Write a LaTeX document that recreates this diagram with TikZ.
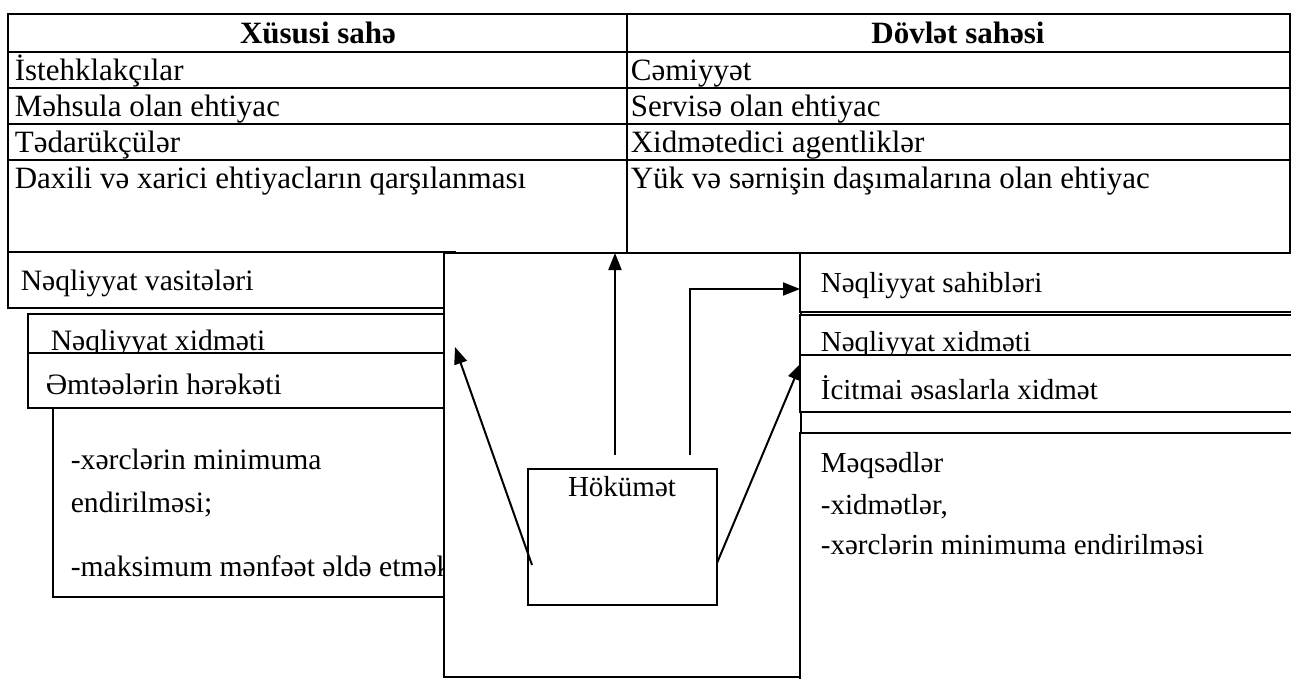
\documentclass[tikz,border=0pt]{standalone}
\usepackage{fontspec}
\setmainfont{Liberation Serif}
\usetikzlibrary{arrows.meta}
\begin{document}
\begin{tikzpicture}[x=1pt,y=-1pt,line width=1.7pt,
  cell/.style={draw=black,fill=white,rectangle,inner sep=0pt,outer sep=0pt,anchor=north west},
  txt/.style={anchor=base west,inner sep=0pt,font=\fontsize{29}{32}\selectfont},
  tbl/.style={txt,font=\fontsize{31}{34}\selectfont},
  lft/.style={txt,font=\fontsize{29.6}{33}\selectfont},
  hdr/.style={anchor=base,inner sep=0pt,font=\fontsize{31}{34}\selectfont\bfseries},
  arr/.style={-{Triangle[length=17pt,width=13pt]},line width=2pt}]
\useasboundingbox (0,0) rectangle (1291,678);
\clip (0,0) rectangle (1291,678);
% top table
\node[cell,minimum width=619pt,minimum height=38pt] (h1) at (8,14) {};
\node[cell,minimum width=663pt,minimum height=38pt] (h2) at (627,14) {};
\node[cell,minimum width=619pt,minimum height=36pt] (a1) at (8,52) {};
\node[cell,minimum width=663pt,minimum height=36pt] (a2) at (627,52) {};
\node[cell,minimum width=619pt,minimum height=36pt] (b1) at (8,88) {};
\node[cell,minimum width=663pt,minimum height=36pt] (b2) at (627,88) {};
\node[cell,minimum width=619pt,minimum height=36pt] (c1) at (8,124) {};
\node[cell,minimum width=663pt,minimum height=36pt] (c2) at (627,124) {};
\node[cell,minimum width=619pt,minimum height=93pt] (d1) at (8,160) {};
\node[cell,minimum width=663pt,minimum height=93pt] (d2) at (627,160) {};
\node[hdr] (th1) at (318,43) {Xüsusi sahə};
\node[hdr] (th2) at (958,43) {Dövlət sahəsi};
\node[tbl] (t1) at (14,80) {İstehklakçılar};
\node[tbl] (t2) at (14,116) {Məhsula olan ehtiyac};
\node[tbl] (t3) at (14,152) {Tədarükçülər};
\node[tbl] (t4) at (14,188) {Daxili və xarici ehtiyacların qarşılanması};
\node[tbl] (s1) at (630,80) {Cəmiyyət};
\node[tbl] (s2) at (630,116) {Servisə olan ehtiyac};
\node[tbl] (s3) at (630,152) {Xidmətedici agentliklər};
\node[tbl] (s4) at (630,188) {Yük və sərnişin daşımalarına olan ehtiyac};
% left boxes
\node[cell,minimum width=447pt,minimum height=56pt] (nv) at (8,252) {};
\node[lft] (nvt) at (20,290) {Nəqliyyat vasitələri};
\node[cell,minimum width=416pt,minimum height=39pt] (nx) at (28,314) {};
\node[lft] (nxt) at (50,350) {Nəqliyyat xidməti};
\node[cell,minimum width=416pt,minimum height=55pt] (em) at (28,353) {};
\node[lft] (emt) at (45,394) {Əmtəələrin hərəkəti};
\node[cell,minimum width=391pt,minimum height=189pt] (lb) at (53,408) {};
\node[lft] (lb1) at (70,469) {-xərclərin minimuma};
\node[lft] (lb2) at (70,512) {endirilməsi;};
\node[lft] (lb3) at (70,576) {-maksimum mənfəət əldə etmək};
% central box
\node[cell,minimum width=357pt,minimum height=424pt] (big) at (444,253) {};
% right boxes
\node[cell,minimum width=500pt,minimum height=59pt] (rs) at (800,253) {};
\node[txt] (rst) at (820,292) {Nəqliyyat sahibləri};
\node[cell,minimum width=500pt,minimum height=40pt] (rx) at (800,315) {};
\node[txt] (rxt) at (820,351) {Nəqliyyat xidməti};
\node[cell,minimum width=500pt,minimum height=57pt] (ri) at (800,355) {};
\node[txt] (rit) at (820,399) {İcitmai əsaslarla xidmət};
\node[cell,minimum width=500pt,minimum height=260pt] (rm) at (800,433) {};
\node[txt] (rm1) at (820,472) {Məqsədlər};
\node[txt] (rm2) at (820,514) {-xidmətlər,};
\node[txt] (rm3) at (820,554) {-xərclərin minimuma endirilməsi};
% government box
\node[cell,minimum width=189pt,minimum height=136pt] (hok) at (528,469) {};
\node[anchor=base,inner sep=0pt,font=\fontsize{29}{32}\selectfont] (hokt) at (622,496) {Hökümət};
% arrows
\coordinate (gL) at (532,565);
\coordinate (tL) at (455,347);
\coordinate (gU) at (615,455);
\coordinate (gB) at (690,455);
\coordinate (gR) at (717,563);
\coordinate (tR) at (801,363);
\coordinate (tB) at (800,289);
\draw[arr] (gL) -- (tL);
\draw[arr] (gU) -- (gU |- big.north);
\draw[arr] (gB) |- (tB);
\draw[arr] (gR) -- (tR);
\end{tikzpicture}
\end{document}
